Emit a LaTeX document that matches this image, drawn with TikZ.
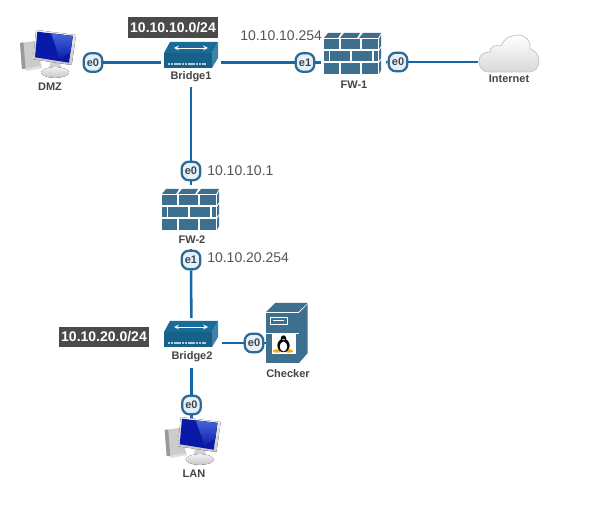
\documentclass[tikz,border=0pt]{standalone}
\usepackage{fontspec}
\setmainfont{Liberation Sans}
\definecolor{wallblue}{HTML}{3D6F8E}
\definecolor{linkblue}{HTML}{1468A8}
\definecolor{bridgeblue}{HTML}{1A6C98}
\definecolor{portfill}{HTML}{E4F1FB}
\definecolor{portline}{HTML}{2F6A92}
\definecolor{tagdark}{HTML}{4A4A4A}
\definecolor{ipgray}{HTML}{555555}
\definecolor{labelgray}{HTML}{444444}
\definecolor{screenblue}{HTML}{0A1AA8}
\definecolor{glareblue}{HTML}{4466DC}
\begin{document}
\begin{tikzpicture}[x=0.75pt,y=-0.75pt]

    \tikzset{iconbox/.style={inner sep=0pt,outer sep=0pt,minimum width=#1},
        portnode/.style={draw=portline,line width=1.7pt,fill=portfill,rounded corners=5.5pt,
            minimum width=14pt,minimum height=14pt,inner sep=0pt,outer sep=0.8pt,
            text=labelgray,font=\fontsize{8.25}{10}\selectfont\bfseries},
        devlabel/.style={inner sep=0pt,text=labelgray,font=\fontsize{8.25}{10}\selectfont\bfseries},
        iplabel/.style={inner sep=0pt,text=ipgray,font=\fontsize{10.5}{12}\selectfont},
        nettag/.style={fill=tagdark,text=white,inner sep=0pt,minimum width=67.5pt,minimum height=15.5pt,
            font=\fontsize{10.5}{12}\selectfont\bfseries},
        firewallicon/.pic={
            \fill[wallblue] (0,5) -- (4,0) -- (17,0) -- (14,5) -- cycle;
            \fill[wallblue] (16,5) -- (20,0) -- (36,0) -- (33,5) -- cycle;
            \fill[wallblue] (35,5) -- (39,0) -- (57,0) -- (54,5) -- cycle;
            \foreach \xa/\xb in {0/15,17/36,38/54} {\fill[wallblue] (\xa,6) rectangle (\xb,16);}
            \foreach \xa/\xb in {0/5,6/26,28/48,50/54} {\fill[wallblue] (\xa,18) rectangle (\xb,28);}
            \foreach \xa/\xb in {0/15,17/36,38/54} {\fill[wallblue] (\xa,30) rectangle (\xb,41);}
            \fill[wallblue] (55,6) -- (57,2) -- (57,13) -- (55,16) -- cycle;
            \fill[wallblue] (55,18) -- (57,15) -- (57,25) -- (55,28) -- cycle;
            \fill[wallblue] (55,30) -- (57,27) -- (57,37) -- (55,41) -- cycle;
        },
        bridgeicon/.pic={
            \fill[bridgeblue] (6,0) -- (54,0) -- (48,11) -- (0,11) -- cycle;
            \fill[black!10!bridgeblue] (0,11) rectangle (48,26);
            \fill[white!15!bridgeblue] (48,11) -- (54,0) -- (54,16) -- (48,26) -- cycle;
            \draw[white,line width=0.6pt,<->,>=stealth] (10,6) -- (44,6);
            \draw[white!65!bridgeblue,line width=1.4pt,dash pattern=on 1.6pt off 0.5pt] (4,22) -- (42,22);
        },
        computericon/.pic={
            \fill[gray!40] (0,13) -- (15,11) -- (22,38) -- (2,39) -- cycle;
            \fill[gray!80] (0,13) -- (3.5,12.5) -- (5.5,39) -- (2,39) -- cycle;
            \fill[gray!25] (5,39) -- (20,36) -- (22,38) -- (7,41) -- cycle;
            \fill[gray!35] (30,32) -- (40,33) -- (42,40) -- (29,40) -- cycle;
            \fill[top color=gray!10,bottom color=gray!45] (35,42.5) ellipse [x radius=10.5pt,y radius=4pt];
            \fill[top color=gray!10,bottom color=gray!45] (16,0) -- (56,5) -- (51.7,35) -- (13.3,29.3) -- cycle;
            \fill[screenblue] (17.3,1.7) -- (52.7,6) -- (49,32.7) -- (15,27.3) -- cycle;
            \fill[top color=glareblue,bottom color=screenblue] (31,3.4) -- (52.7,6) -- (50.5,22) -- (39,30) -- (37,21) -- cycle;
        },
        cloudicon/.pic={
            \draw[draw=gray!45,line width=0.6pt,top color=white,bottom color=gray!30]
                (10,37) .. controls (3,37) and (0,32) .. (0,26) .. controls (0,20) and (5,17) .. (11,17)
                .. controls (11,12) and (16,9) .. (22,11) .. controls (25,3) and (33,0) .. (39,0)
                .. controls (47,0) and (52,6) .. (51,14) .. controls (56,15) and (60,20) .. (60,26)
                .. controls (60,32) and (56,37) .. (50,37) -- cycle;
        },
        servericon/.pic={
            \fill[wallblue] (0,9) -- (9,0) -- (41.7,0) -- (32.3,9) -- cycle;
            \fill[wallblue] (0,10) rectangle (32.5,60);
            \fill[wallblue] (33,10) -- (41.7,1) -- (41.7,50) -- (33,60) -- cycle;
            \draw[white,line width=0.6pt] (0,30) -- (32.5,30);
            \draw[white,line width=0.7pt] (4,14) rectangle (21,21);
            \draw[white,line width=0.7pt] (7,17.5) -- (18,17.5);
            \fill[white] (5.7,31) rectangle (29.7,51);
            \fill[orange!70!yellow] (11,48) ellipse [x radius=3pt,y radius=1.3pt];
            \fill[orange!70!yellow] (23,48) ellipse [x radius=3pt,y radius=1.3pt];
            \fill[black] (17.5,42.5) ellipse [x radius=4.6pt,y radius=5pt];
            \fill[black] (17.5,35.8) ellipse [x radius=2.1pt,y radius=2.6pt];
            \fill[white] (17.5,43.5) ellipse [x radius=2.8pt,y radius=3.7pt];
            \fill[orange!70!yellow] (17.5,36.5) ellipse [x radius=1.1pt,y radius=0.6pt];
        }}

    \fill[white] (0,0) rectangle (604,506);
    \useasboundingbox (0,0) rectangle (604,506);

    \node[iconbox=49.5pt,minimum height=36pt] (dmz) at (50,62.5) {};
    \node[iconbox=45pt,minimum height=37.5pt] (bridge1) at (191,62.5) {};
    \node[iconbox=48.8pt,minimum height=40pt] (fw1) at (353.5,62.5) {};
    \node[iconbox=46.5pt,minimum height=30pt] (internet) at (509,62) {};
    \node[iconbox=43.5pt,minimum height=48pt] (fw2) at (191,217) {};
    \node[iconbox=45pt,minimum height=37.5pt] (bridge2) at (191.5,343) {};
    \node[iconbox=31.5pt,minimum height=30pt] (checker) at (287,343) {};
    \node[iconbox=42pt,minimum height=36pt] (lan) at (191.5,444) {};

    \node[portnode] (dmze0) at (93,62.5) {e0};
    \node[portnode] (fw1e1) at (305,62.5) {e1};
    \node[portnode] (fw1e0) at (398,62) {e0};
    \node[portnode] (fw2e0) at (191,171) {e0};
    \node[portnode] (fw2e1) at (191,260) {e1};
    \node[portnode] (chke0) at (254,343) {e0};
    \node[portnode] (lane0) at (191.5,405) {e0};

    \begin{scope}[every path/.style={draw=linkblue,line width=1.9pt}]
        \draw (dmz) -- (dmze0);
        \draw (dmze0) -- (bridge1);
        \draw (bridge1) -- (fw1e1);
        \draw (fw1e1) -- (fw1);
        \draw (fw1) -- (fw1e0);
        \draw (fw1e0) -- (internet);
        \draw (bridge1) -- (fw2e0);
        \draw (fw2e0) -- (fw2);
        \draw (fw2) -- (fw2e1);
        \draw (fw2e1) -- (bridge2);
        \draw (bridge2) -- (chke0);
        \draw (chke0) -- (checker);
        \draw (bridge2) -- (lane0);
        \draw (lane0) -- (lan);
    \end{scope}

    \pic at (20,30) {computericon};
    \pic at (164,42) {bridgeicon};
    \pic at (324,33) {firewallicon};
    \pic at (479,35) {cloudicon};
    \pic at (162,189) {firewallicon};
    \pic at (164,321) {bridgeicon};
    \pic at (266,303) {servericon};
    \pic at (164.7,417) {computericon};

    \node[devlabel] (dmzlabel) at (50,87) {DMZ};
    \node[devlabel] (bridge1label) at (191,77) {Bridge1};
    \node[devlabel] (fw1label) at (354,85) {FW-1};
    \node[devlabel] (internetlabel) at (509,79) {Internet};
    \node[devlabel] (fw2label) at (192,240) {FW-2};
    \node[devlabel] (bridge2label) at (192,357) {Bridge2};
    \node[devlabel] (checkerlabel) at (288,374) {Checker};
    \node[devlabel] (lanlabel) at (194,474) {LAN};

    \node[nettag] (net1) at (173,27.5) {10.10.10.0/24};
    \node[nettag] (net2) at (104,337) {10.10.20.0/24};
    \node[iplabel,anchor=west] (ip1) at (240,36) {10.10.10.254};
    \node[iplabel,anchor=west] (ip2) at (207,171) {10.10.10.1};
    \node[iplabel,anchor=west] (ip3) at (207,258) {10.10.20.254};

\end{tikzpicture}
\end{document}
